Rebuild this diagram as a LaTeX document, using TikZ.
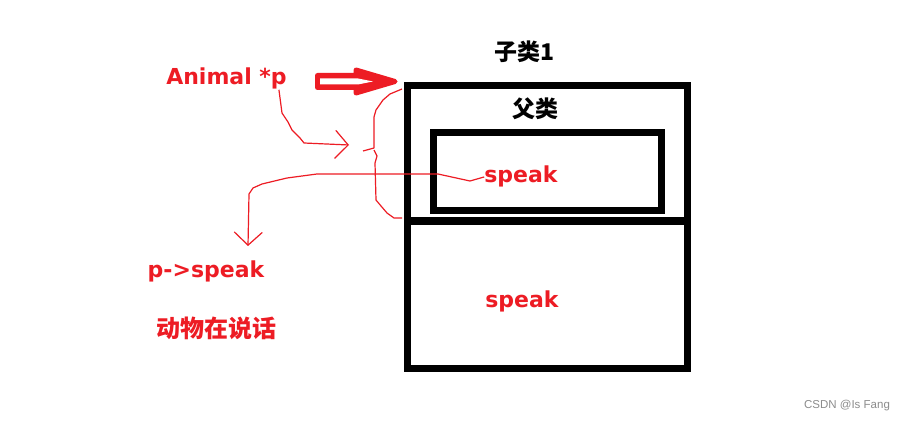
\documentclass[tikz,border=0pt]{standalone}
\usepackage{fontspec}
\newfontfamily\cjk{Noto Sans CJK SC}
\newfontfamily\lat{DejaVu Sans}
\newfontfamily\wmark{Liberation Sans}
\usetikzlibrary{arrows.meta}
\definecolor{paintred}{RGB}{237,28,36}
\tikzset{
  redlbl/.style={text=paintred,font=\lat\bfseries\fontsize{22}{26}\selectfont,inner sep=0pt},
  redcjk/.style={text=paintred,font=\cjk\bfseries\fontsize{24}{28}\selectfont,inner sep=0pt},
  blkcjk/.style={font=\cjk\bfseries\fontsize{23}{27}\selectfont,inner sep=0pt},
  frame/.style={draw,line width=7pt,inner sep=0pt},
  scrawl/.style={paintred,line width=1.2pt,line join=round},
  vtip/.style={-{Straight Barb[length=13pt,width=28pt,line width=1.2pt]}},
}

\begin{document}
\begin{tikzpicture}[x=1pt,y=-1pt]
\useasboundingbox[fill=white] (0,0) rectangle (908,422);
% boxes
\node[frame,minimum width=279.5pt,minimum height=282.5pt] (child) at (547.25,226.75) {};
\coordinate (split) at (0,221);
\draw[line width=8pt] (child.west |- split) -- (child.east |- split);
\node[frame,minimum width=228pt,minimum height=78pt] (base) at (547.5,172) {};
% labels
\node[blkcjk] (childlbl) at (524,52) {子类1};
\node[blkcjk] (baselbl) at (535,108.5) {父类};
\node[redlbl,anchor=base] (basespeak) at (521,183) {speak};
\node[redlbl,anchor=base] (childspeak) at (522,307) {speak};
\node[redlbl,anchor=base] (ptr) at (226.5,85) {Animal *p};
\node[redlbl,anchor=base] (call) at (206,278) {p->speak};
\node[redcjk] (result) at (216.5,328) {动物在说话};
\node[text=black!45,font=\wmark\fontsize{11.5}{13}\selectfont,inner sep=0pt] (wm) at (847,406) {CSDN @Is Fang};
% block arrow, head mostly solid
\draw[paintred,line width=5pt,line join=round,fill=paintred]
  (317.5,75.5) -- (356,75.5) -- (356,70) -- (395,81.5) -- (356,93) -- (356,87.5) -- (317.5,87.5) -- cycle;
\fill[white] (320,78.5) -- (358,78.5) -- (373,81.5) -- (358,84.5) -- (320,84.5) -- cycle;
% hand drawn brace
\draw[scrawl] (402,89) -- (390,94) -- (383,100) -- (376,110) -- (374,117) -- (374,148) -- (363,151)
  (374,150) -- (377,156) -- (375,163) -- (376,200) -- (381,206) -- (387,213) -- (394,218) -- (402,218);
% hand drawn connectors
\coordinate (ptrtip) at (349,145);
\coordinate (calltip) at (248,246);
\draw[scrawl,vtip] ([xshift=-8pt]ptr.south east) -- (282,113) -- (288,122) -- (292,130) -- (300,138)
  -- (304,143) -- (ptrtip);
\draw[scrawl,vtip] (basespeak.west) -- (470,181) -- (438,174) -- (317,174) -- (287,178) -- (262,184)
  -- (253,188) -- (249,194) -- (calltip);
\end{tikzpicture}
\end{document}
